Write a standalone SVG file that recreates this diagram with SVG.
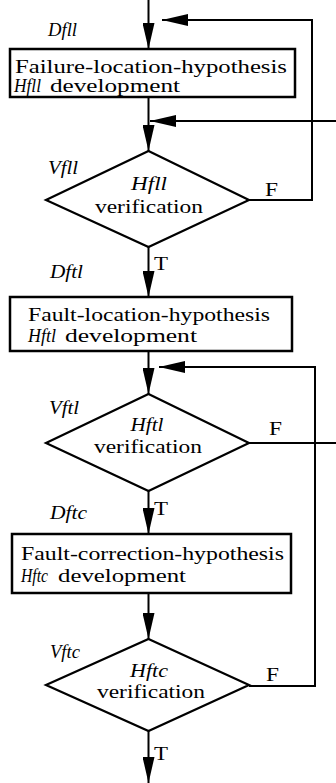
<svg xmlns="http://www.w3.org/2000/svg" width="336" height="783" viewBox="0 0 336 783" font-family="'Liberation Serif', 'Times New Roman', Times, serif">
<defs>
<style>
text{font-family:'Liberation Serif','Times New Roman',Times,serif;font-size:18px;fill:#000}
.i{font-style:italic}
.box{fill:#fff;stroke:#000;stroke-width:2.5}
.dia{fill:#fff;stroke:#000;stroke-width:2.2}
.ln{fill:none;stroke:#000;stroke-width:2}
</style>
<marker id="ah" markerUnits="userSpaceOnUse" markerWidth="26" markerHeight="12" refX="26" refY="6" orient="auto">
<path d="M0,0 L26,6 L0,12 z" fill="#000"/>
</marker>
</defs>
<g id="connectors">
<line class="ln" x1="148.5" y1="0" x2="148.5" y2="49" marker-end="url(#ah)"/>
<polyline class="ln" points="249,200 312,200 312,20 162,20" marker-end="url(#ah)"/>
<line class="ln" x1="148.5" y1="97" x2="148.5" y2="151" marker-end="url(#ah)"/>
<line class="ln" x1="336" y1="121" x2="150" y2="121" marker-end="url(#ah)"/>
<line class="ln" x1="148.5" y1="247" x2="148.5" y2="297" marker-end="url(#ah)"/>
<line class="ln" x1="148.5" y1="351" x2="148.5" y2="394" marker-end="url(#ah)"/>
<polyline class="ln" points="249,686 315,686 315,367 159,367" marker-end="url(#ah)"/>
<line class="ln" x1="249" y1="443" x2="336" y2="443"/>
<line class="ln" x1="148.5" y1="491" x2="148.5" y2="534" marker-end="url(#ah)"/>
<line class="ln" x1="148.5" y1="593" x2="148.5" y2="639" marker-end="url(#ah)"/>
<line class="ln" x1="148.5" y1="731" x2="148.5" y2="783" marker-end="url(#ah)"/>
<text x="265" y="196" textLength="13" lengthAdjust="spacingAndGlyphs">F</text>
<text x="154" y="270" textLength="14" lengthAdjust="spacingAndGlyphs">T</text>
<text x="269" y="435" textLength="13" lengthAdjust="spacingAndGlyphs">F</text>
<text x="154" y="515" textLength="14" lengthAdjust="spacingAndGlyphs">T</text>
<text x="266" y="681" textLength="13" lengthAdjust="spacingAndGlyphs">F</text>
<text x="154" y="760" textLength="14" lengthAdjust="spacingAndGlyphs">T</text>
</g>
<g id="box1">
<rect class="box" x="10" y="49" width="285" height="48"/>
<text x="15" y="73" textLength="272" lengthAdjust="spacingAndGlyphs">Failure-location-hypothesis</text>
<text class="i" x="14" y="92" textLength="27" lengthAdjust="spacingAndGlyphs">Hfll</text>
<text x="50" y="92" textLength="130" lengthAdjust="spacingAndGlyphs">development</text>
<text class="i" x="48" y="36" textLength="29" lengthAdjust="spacingAndGlyphs">Dfll</text>
</g>
<g id="diamond1">
<polygon class="dia" points="148.5,151 249,200 148.5,247 46,200"/>
<text class="i" x="149" y="190" text-anchor="middle" textLength="36" lengthAdjust="spacingAndGlyphs">Hfll</text>
<text x="149" y="213" text-anchor="middle" textLength="108" lengthAdjust="spacingAndGlyphs">verification</text>
<text class="i" x="48" y="174" textLength="30" lengthAdjust="spacingAndGlyphs">Vfll</text>
</g>
<g id="box2">
<rect class="box" x="10" y="297" width="282" height="54"/>
<text x="28" y="321" textLength="242" lengthAdjust="spacingAndGlyphs">Fault-location-hypothesis</text>
<text class="i" x="28" y="342" textLength="28" lengthAdjust="spacingAndGlyphs">Hftl</text>
<text x="65" y="342" textLength="132" lengthAdjust="spacingAndGlyphs">development</text>
<text class="i" x="50" y="278" textLength="33" lengthAdjust="spacingAndGlyphs">Dftl</text>
</g>
<g id="diamond2">
<polygon class="dia" points="148.5,394 249,443 148.5,491 46,443"/>
<text class="i" x="147" y="431" text-anchor="middle" textLength="33" lengthAdjust="spacingAndGlyphs">Hftl</text>
<text x="148" y="453" text-anchor="middle" textLength="108" lengthAdjust="spacingAndGlyphs">verification</text>
<text class="i" x="49" y="414" textLength="30" lengthAdjust="spacingAndGlyphs">Vftl</text>
</g>
<g id="box3">
<rect class="box" x="12" y="534" width="279" height="59"/>
<text x="21" y="560" textLength="263" lengthAdjust="spacingAndGlyphs">Fault-correction-hypothesis</text>
<text class="i" x="21" y="582" textLength="27" lengthAdjust="spacingAndGlyphs">Hftc</text>
<text x="58" y="582" textLength="128" lengthAdjust="spacingAndGlyphs">development</text>
<text class="i" x="50" y="519" textLength="37" lengthAdjust="spacingAndGlyphs">Dftc</text>
</g>
<g id="diamond3">
<polygon class="dia" points="148.5,639 249,685 148.5,731 46,685"/>
<text class="i" x="149" y="677" text-anchor="middle" textLength="38" lengthAdjust="spacingAndGlyphs">Hftc</text>
<text x="151" y="698" text-anchor="middle" textLength="108" lengthAdjust="spacingAndGlyphs">verification</text>
<text class="i" x="50" y="658" textLength="30" lengthAdjust="spacingAndGlyphs">Vftc</text>
</g>
</svg>
